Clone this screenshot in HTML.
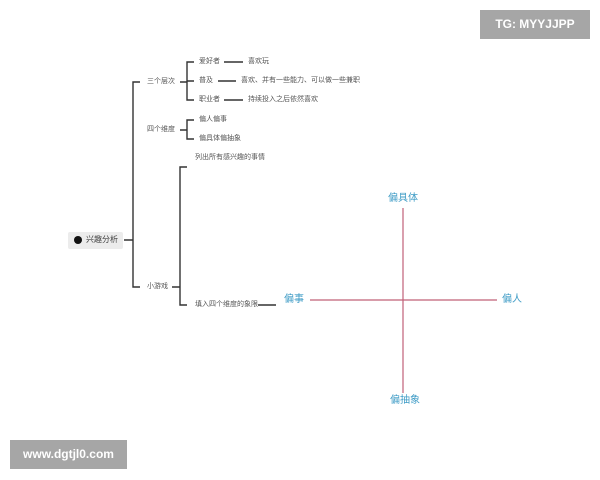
<!DOCTYPE html><html><head><meta charset="utf-8"><style>
body{margin:0;width:600px;height:480px;background:#fff;position:relative;overflow:hidden;font-family:"Liberation Sans","Noto Sans CJK SC",sans-serif}
.t{position:absolute;font-size:7px;color:#555;white-space:nowrap;line-height:10px}
.q{position:absolute;font-size:10px;color:#3f9cc6;white-space:nowrap;line-height:12px}
.wm{position:absolute;background:#a6a6a6;color:#fff;font-size:12px;font-weight:bold;text-align:center}
</style></head><body>
<svg width="600" height="480" style="position:absolute;left:0;top:0" fill="none" stroke="#333" stroke-width="1.4">
<path d="M124 240H133M140 82H133V287H140"/>
<path d="M180 82H187M194 62H187V100H194M187 81H194M180 130H187M194 120H187V139H194"/>
<path d="M224 62H243M218 81H236M224 100H243"/>
<path d="M172 287H180M187 167H180V305H187M258 305H276"/>
<path d="M403 208V393M310 300H497" stroke="#c06078" stroke-width="1.2"/>
</svg>
<div style="position:absolute;left:68px;top:232px;width:55px;height:17px;background:#ececec;border-radius:2px"></div>
<div style="position:absolute;left:74px;top:236px;width:8px;height:8px;border-radius:50%;background:#111"></div>
<div class="t" style="left:86px;top:235px;font-size:8px;color:#444">兴趣分析</div>
<div class="t" style="left:147px;top:77px">三个层次</div>
<div class="t" style="left:147px;top:125px">四个维度</div>
<div class="t" style="left:147px;top:282px">小游戏</div>
<div class="t" style="left:199px;top:57px">爱好者</div>
<div class="t" style="left:199px;top:76px">普及</div>
<div class="t" style="left:199px;top:95px">职业者</div>
<div class="t" style="left:248px;top:57px">喜欢玩</div>
<div class="t" style="left:241px;top:76px">喜欢、并有一些能力、可以做一些兼职</div>
<div class="t" style="left:248px;top:95px">持续投入之后依然喜欢</div>
<div class="t" style="left:199px;top:115px">偏人偏事</div>
<div class="t" style="left:199px;top:134px">偏具体偏抽象</div>
<div class="t" style="left:195px;top:153px">列出所有感兴趣的事情</div>
<div class="t" style="left:195px;top:300px">填入四个维度的象限</div>
<div class="q" style="left:388px;top:193px">偏具体</div>
<div class="q" style="left:390px;top:395px">偏抽象</div>
<div class="q" style="left:284px;top:294px">偏事</div>
<div class="q" style="left:502px;top:294px">偏人</div>
<div class="wm" style="left:480px;top:10px;width:110px;height:29px;line-height:29px">TG: MYYJJPP</div>
<div class="wm" style="left:10px;top:440px;width:117px;height:29px;line-height:29px">www.dgtjl0.com</div>
</body></html>
